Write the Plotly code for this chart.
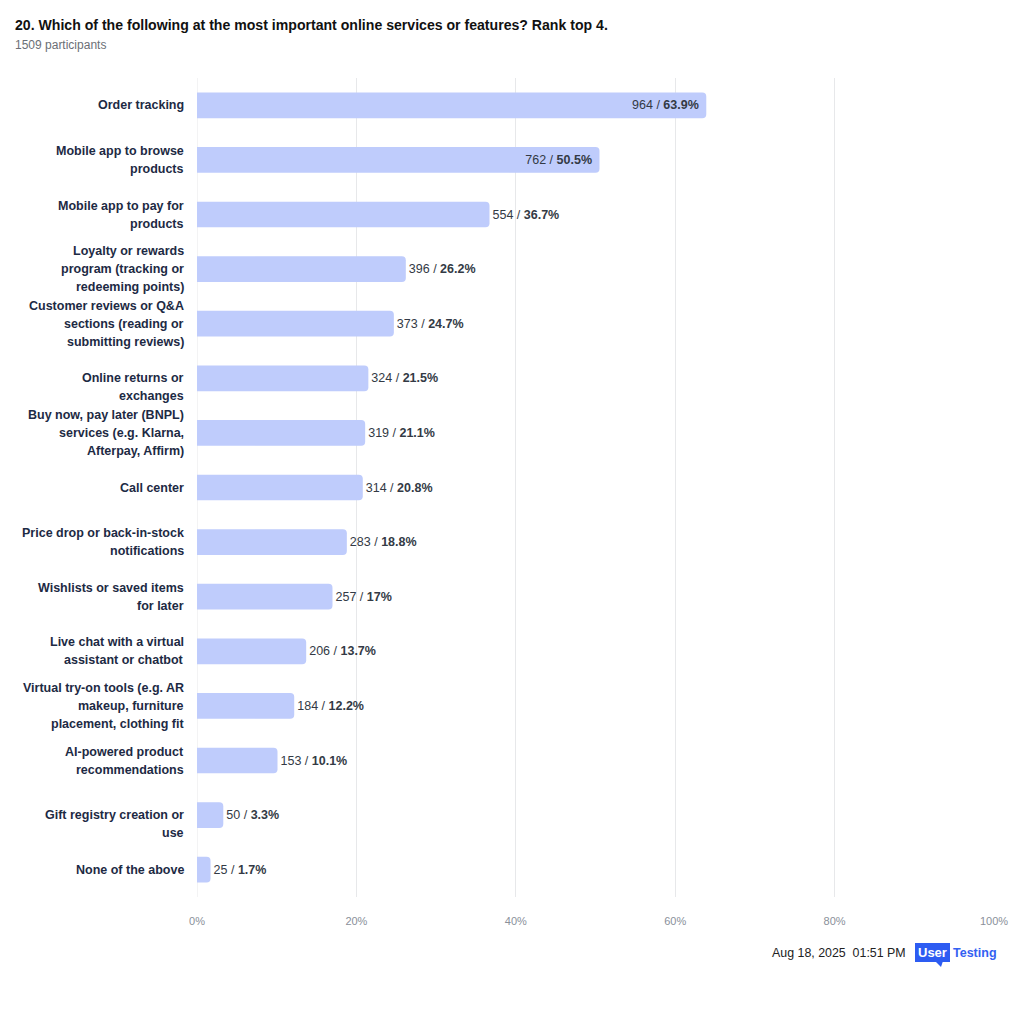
import plotly.graph_objects as go

# data
categories = [
    'Order tracking',
    'Mobile app to browse<br>products',
    'Mobile app to pay for<br>products',
    'Loyalty or rewards<br>program (tracking or<br>redeeming points)',
    'Customer reviews or Q&A<br>sections (reading or<br>submitting reviews)',
    '\u00a0<br>Online returns or<br>exchanges',
    'Buy now, pay later (BNPL)<br>services (e.g. Klarna,<br>Afterpay, Affirm)',
    'Call center',
    'Price drop or back-in-stock<br>notifications',
    'Wishlists or saved items<br>for later',
    'Live chat with a virtual<br>assistant or chatbot',
    'Virtual try-on tools (e.g. AR<br>makeup, furniture<br>placement, clothing fit',
    'AI-powered product<br>recommendations',
    '\u00a0<br>Gift registry creation or<br>use',
    'None of the above',
]
counts = [964, 762, 554, 396, 373, 324, 319, 314, 283, 257, 206, 184, 153, 50, 25]
percents = [63.9, 50.5, 36.7, 26.2, 24.7, 21.5, 21.1, 20.8, 18.8, 17, 13.7, 12.2, 10.1, 3.3, 1.7]
x_ticks = [0, 20, 40, 60, 80, 100]
x_tick_text = ['0%', '20%', '40%', '60%', '80%', '100%']

title = '20. Which of the following at the most important online services or features? Rank top 4.'
subtitle = '1509 participants'
stamp = 'Aug 18, 2025  01:51 PM'

FONT = 'Liberation Sans, Arial, sans-serif'
OFF = 8  # page body margin
W, H = 1024 - OFF, 1020 - OFF
L, R, T, B = 197 - OFF, 30, 78 - OFF, 123
LINE_H = 18


def px_x(px):
  """page pixel -> paper x"""
  return (px - OFF - L) / (W - L - R)


def px_y(py):
  """page pixel -> paper y"""
  return (H - B - (py - OFF)) / (H - T - B)


positions = ['inside' if p > 45 else 'outside' for p in percents]
labels = [f'{c} / <b>{p:g}%</b>' + ('\u00a0' if pos == 'inside' else '')
          for c, p, pos in zip(counts, percents, positions)]

fig = go.Figure()
fig.add_trace(go.Bar(
    x=percents, y=list(range(len(categories))), orientation='h',
    marker=dict(color='#bfccfc', cornerradius=4, line=dict(width=0)),
    width=0.47,
    text=labels, textposition=positions,
    insidetextanchor='end',
    textfont=dict(family=FONT, size=12.5, color='#333a45'),
    insidetextfont=dict(family=FONT, size=12.5, color='#333a45'),
    outsidetextfont=dict(family=FONT, size=12.5, color='#333a45'),
    cliponaxis=False,
    hoverinfo='skip',
))

fig.update_layout(
    width=W, height=H,
    margin=dict(l=L, r=R, t=T, b=B),
    paper_bgcolor='white', plot_bgcolor='white',
    showlegend=False,
    font=dict(family=FONT),
    xaxis=dict(range=[0, 100], tickvals=x_ticks, ticktext=x_tick_text,
               showgrid=True, gridcolor='#e7e8ea', gridwidth=1,
               zeroline=False, showline=False,
               tickfont=dict(size=11, color='#8a909a'),
               ticks='', ticklabelstandoff=16, fixedrange=True),
    yaxis=dict(range=[len(categories) - 0.5, -0.5], showgrid=False, zeroline=False,
               showline=False, ticks='', showticklabels=False, fixedrange=True),
)

# grid line at 0
fig.add_shape(type='line', xref='x', yref='paper', x0=0, x1=0, y0=0, y1=1,
              line=dict(color='#e7e8ea', width=1), layer='below')

# category labels, one annotation per line so the line height matches
for i, cat in enumerate(categories):
  lines = cat.split('<br>')
  n = len(lines)
  for j, line in enumerate(lines):
    if not line.strip():
      continue
    fig.add_annotation(text=f'<b>{line}</b>', xref='paper', yref='y',
                       x=px_x(186), y=i, xanchor='right', yanchor='middle',
                       yshift=-(j - (n - 1) / 2) * LINE_H,
                       showarrow=False,
                       font=dict(size=12.5, color='#1d2a44'))

fig.add_annotation(text=f'<b>{title}</b>', xref='paper', yref='paper',
                   x=px_x(13), y=px_y(25), xanchor='left', yanchor='middle',
                   showarrow=False, font=dict(size=14.1, color='#111111'))
fig.add_annotation(text=subtitle, xref='paper', yref='paper',
                   x=px_x(13), y=px_y(45), xanchor='left', yanchor='middle',
                   showarrow=False, font=dict(size=12, color='#6b6f76'))

# footer
fig.add_annotation(text=stamp, xref='paper', yref='paper',
                   x=px_x(908), y=px_y(953), xanchor='right', yanchor='middle',
                   showarrow=False, font=dict(size=12.4, color='#222222'))
fig.add_shape(type='rect', xref='paper', yref='paper',
              x0=px_x(915), x1=px_x(950), y0=px_y(943), y1=px_y(962),
              fillcolor='#2d5cf2', line=dict(width=0))
fig.add_shape(type='path', xref='paper', yref='paper',
              path=f'M {px_x(935)} {px_y(961)} L {px_x(943)} {px_y(961)} L {px_x(941)} {px_y(967)} Z',
              fillcolor='#2d5cf2', line=dict(width=0))
fig.add_annotation(text='<b>User</b>', xref='paper', yref='paper',
                   x=px_x(932.5), y=px_y(952.5), xanchor='center', yanchor='middle',
                   showarrow=False, font=dict(size=13, color='white'))
fig.add_annotation(text='<b>Testing</b>', xref='paper', yref='paper',
                   x=px_x(951), y=px_y(952.5), xanchor='left', yanchor='middle',
                   showarrow=False, font=dict(size=12.5, color='#3461f2'))

fig.write_html('out.html')
